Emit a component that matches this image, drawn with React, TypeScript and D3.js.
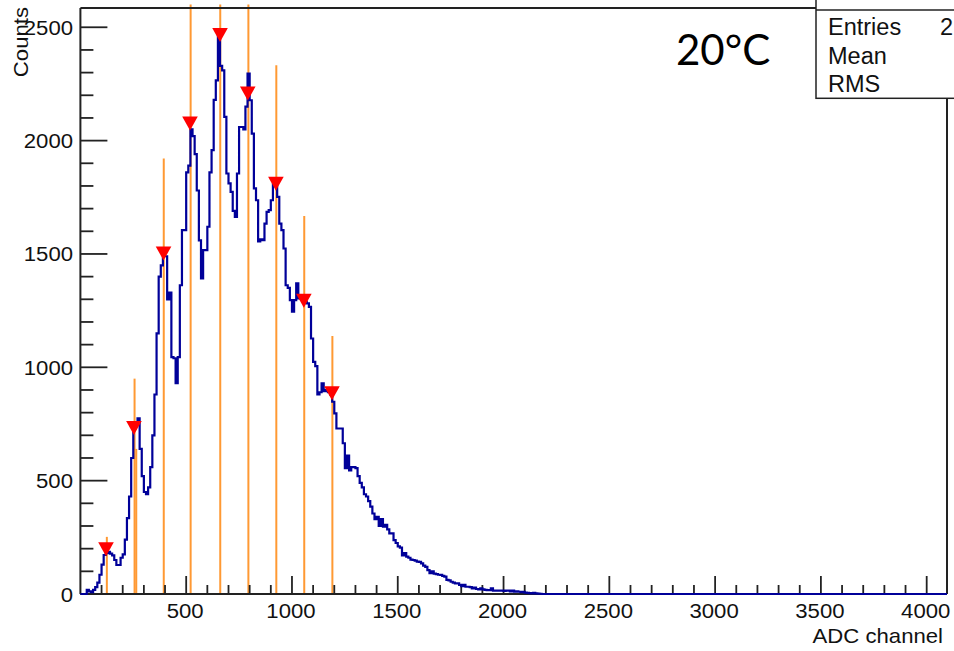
import React from "react";
import * as d3 from "d3";

// Histogram: 10-channel bins starting at channel 0
const binWidth = 10;
const counts = [
  0, 0, 0, 18, 12, 8, 18, 30, 50, 85,
  130, 172, 180, 186, 178, 170, 150, 128, 128, 160,
  175, 240, 335, 430, 600, 730, 750, 775, 640, 520,
  450, 440, 470, 560, 700, 880, 1150, 1400, 1450, 1490,
  1490, 1300, 1330, 1045, 1040, 930, 1045, 1362, 1605, 1605,
  1860, 1890, 2050, 2020, 1940, 1780, 1560, 1392, 1517, 1517,
  1620, 1860, 1958, 2180, 2266, 2470, 2330, 2310, 2105, 1855,
  1811, 1774, 1690, 1664, 1855, 2060, 2060, 2050, 2150, 2296,
  2178, 2031, 1789, 1737, 1555, 1565, 1561, 1634, 1686, 1693,
  1737, 1810, 1825, 1752, 1634, 1605, 1524, 1362, 1350, 1296,
  1245, 1296, 1370, 1304, 1304, 1300, 1290, 1282, 1267, 1127,
  1024, 1005, 880, 890, 929, 895, 900, 890, 880, 848,
  797, 730, 730, 730, 665, 555, 610, 545, 560, 560,
  555, 520, 490, 470, 440, 430, 410, 385, 355, 330,
  340, 300, 330, 297, 305, 285, 267, 267, 238, 225,
  210, 205, 170, 180, 165, 160, 152, 150, 147, 143,
  142, 135, 125, 120, 105, 92, 100, 90, 88, 85,
  84, 80, 77, 62, 60, 54, 50, 47, 47, 40,
  35, 40, 32, 32, 30, 25, 28, 22, 20, 25,
  20, 18, 17, 17, 25, 15, 15, 15, 15, 15,
  14, 15, 15, 12, 15, 10, 12, 10, 8, 10,
  6, 5, 4, 3, 5, 3, 2, 1, 0, 0,
];

// Peak markers found (channel, counts)
const peakChannels = [121, 253, 393, 518, 660, 791, 924, 1056, 1189];
const peakCounts = [197, 732, 1502, 2076, 2466, 2208, 1810, 1294, 886];

// Orange vertical lines (channel, top in counts)
const lineChannels = [125, 256, 264, 394, 521, 661, 794, 926, 1058, 1191];
const lineTops = [252, 950, 640, 1921, 2600, 2600, 2600, 2332, 1668, 1138];

const xMajorTicks = [500, 1000, 1500, 2000, 2500, 3000, 3500, 4000];
const yMajorTicks = [0, 500, 1000, 1500, 2000, 2500];
const xDomain = [0, 4096];
const yDomain = [0, 2585];

const statsLabels = ["Entries", "Mean", "RMS"];
const statsValues = ["2", "", ""];
const annotation = "20°C";

export default function App() {
  const W = 954;
  const H = 651;
  const left = 80.4;
  const right = 947;
  const top = 8;
  const bottom = 594;

  const x = d3.scaleLinear().domain(xDomain).range([left, right]);
  const y = d3.scaleLinear().domain(yDomain).range([bottom, top]);

  const pts: [number, number][] = counts.map((c, i) => [i * binWidth, c]);
  pts.push([counts.length * binWidth, 0]);
  pts.push([xDomain[1], 0]);
  const histPath =
    d3
      .line<[number, number]>()
      .x((d) => x(d[0]))
      .y((d) => y(d[1]))
      .curve(d3.curveStepAfter)(pts) || "";

  const xMinor = d3.range(100, 4096, 100).filter((v) => v % 500 !== 0);
  const yMinor = d3.range(100, 2585, 100).filter((v) => v % 500 !== 0);

  const font = "'Liberation Sans', Arial, Helvetica, sans-serif";
  const sx = 1.08;
  const txtColor = "#111";

  const statsX = 816;
  const statsBottom = 98.3;

  return (
    <svg
      width={W}
      height={H}
      style={{ position: "absolute", left: 0, top: 0, background: "#fff" }}
    >
      <rect x={0} y={0} width={W} height={H} fill="#fff" />

      {/* orange lines */}
      {lineChannels.map((c, i) => (
        <line
          key={"ol" + i}
          x1={x(c)}
          x2={x(c)}
          y1={y(0)}
          y2={y(lineTops[i])}
          stroke="#ff9933"
          strokeWidth={2}
        />
      ))}

      {/* frame */}
      <line x1={left} x2={statsX} y1={top} y2={top} stroke="#222" strokeWidth={2} />
      <line x1={right} x2={right} y1={statsBottom} y2={bottom} stroke="#222" strokeWidth={2} />
      <line x1={left} x2={left} y1={top} y2={bottom} stroke="#222" strokeWidth={2} />
      <line x1={left} x2={right} y1={bottom} y2={bottom} stroke="#222" strokeWidth={2} />

      {/* x ticks */}
      {xMajorTicks.map((v) => (
        <line key={"xM" + v} x1={x(v)} x2={x(v)} y1={bottom} y2={bottom - 18} stroke="#222" strokeWidth={1.8} />
      ))}
      {xMinor.map((v) => (
        <line key={"xm" + v} x1={x(v)} x2={x(v)} y1={bottom} y2={bottom - 9} stroke="#222" strokeWidth={1.8} />
      ))}
      {/* y ticks */}
      {yMajorTicks.map((v) => (
        <line key={"yM" + v} x1={left} x2={left + 27} y1={y(v)} y2={y(v)} stroke="#222" strokeWidth={1.8} />
      ))}
      {yMinor.map((v) => (
        <line key={"ym" + v} x1={left} x2={left + 13} y1={y(v)} y2={y(v)} stroke="#222" strokeWidth={1.8} />
      ))}

      {/* histogram */}
      <path d={histPath} fill="none" stroke="#000099" strokeWidth={2.2} />

      {/* peak markers */}
      {peakChannels.map((c, i) => {
        const cx = x(c);
        const cy = y(peakCounts[i]);
        return (
          <path
            key={"pk" + i}
            d={`M${cx - 7.8},${cy - 7}L${cx + 7.8},${cy - 7}L${cx},${cy + 7}Z`}
            fill="#ff0000"
          />
        );
      })}

      {/* tick labels */}
      {xMajorTicks.map((v) => (
        <text
          key={"xl" + v}
          transform={`translate(${x(v) - 1},${618}) scale(${sx},1)`}
          textAnchor="middle"
          fontFamily={font}
          fontSize={20.5}
          fill={txtColor}
        >
          {v}
        </text>
      ))}
      {yMajorTicks.map((v) => (
        <text
          key={"yl" + v}
          transform={`translate(${73},${y(v) + 7.5}) scale(${sx},1)`}
          textAnchor="end"
          fontFamily={font}
          fontSize={20.5}
          fill={txtColor}
        >
          {v}
        </text>
      ))}

      {/* axis titles */}
      <text
        transform={`translate(943,643) scale(${sx},1)`}
        textAnchor="end"
        fontFamily={font}
        fontSize={20.5}
        fill={txtColor}
      >
        ADC channel
      </text>
      <text
        transform={`translate(28,7) rotate(-90) scale(${sx},1)`}
        textAnchor="end"
        fontFamily={font}
        fontSize={20.5}
        fill={txtColor}
      >
        Counts
      </text>

      {/* stats box */}
      <rect x={statsX} y={-40} width={200} height={statsBottom + 40} fill="#fff" stroke="#222" strokeWidth={1.5} />
      <line x1={statsX} x2={W} y1={10} y2={10} stroke="#222" strokeWidth={1.5} />
      {statsLabels.map((s, i) => (
        <g key={"st" + i}>
          <text x={828} y={35 + i * 28.5} fontFamily={font} fontSize={23.5} fill={txtColor}>
            {s}
          </text>
          {statsValues[i] ? (
            <text x={940} y={35 + i * 28.5} fontFamily={font} fontSize={23.5} fill={txtColor}>
              {statsValues[i]}
            </text>
          ) : null}
        </g>
      ))}

      {/* annotation */}
      <text x={676} y={65} fontFamily="Lato, 'Open Sans', sans-serif" fontSize={42} fill="#000">
        {annotation}
      </text>
    </svg>
  );
}
